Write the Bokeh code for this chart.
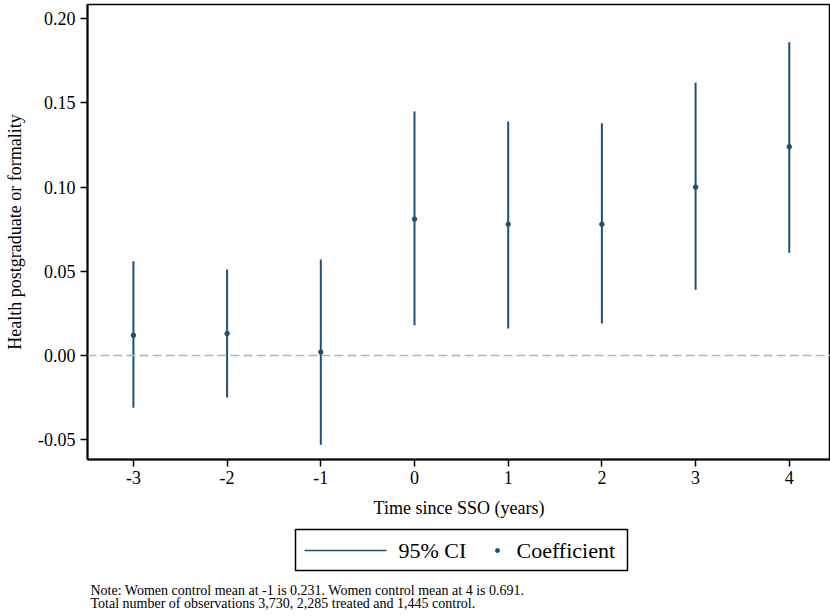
from bokeh.plotting import figure
from bokeh.models import Range1d, FixedTicker, NumeralTickFormatter, Span, ColumnDataSource
from bokeh.layouts import column
from bokeh.embed import file_html
from bokeh.resources import INLINE
from bokeh.core.properties import value

# ---- data ----
periods = [-3, -2, -1, 0, 1, 2, 3, 4]
coef = [0.012, 0.013, 0.002, 0.081, 0.078, 0.078, 0.100, 0.124]
ci_low = [-0.031, -0.025, -0.053, 0.018, 0.016, 0.019, 0.039, 0.061]
ci_high = [0.056, 0.051, 0.057, 0.145, 0.139, 0.138, 0.162, 0.186]
y_ticks = [-0.05, 0.0, 0.05, 0.10, 0.15, 0.20]
x_ticks = periods
x_tick_labels = ["-3", "-2", "-1", "0", "1", "2", "3", "4"]
legend_labels = ["95% CI", "Coefficient"]
note_lines = [
    "Note: Women control mean at -1 is 0.231. Women control mean at 4 is 0.691.",
    "Total number of observations 3,730, 2,285 treated and 1,445 control.",
]

FONT = "Liberation Serif"
NAVY = "#1f4e79"
W = 830
H1 = 520
H2 = 96
FL = 87  # frame left in page pixels

p = figure(width=W, height=H1, output_backend="svg", toolbar_location=None,
           x_range=Range1d(-3.49, 4.44), y_range=Range1d(-0.0618, 0.2085),
           min_border_left=FL, min_border_right=0, min_border_top=4, min_border_bottom=57)
p.background_fill_color = "white"
p.border_fill_color = "white"
p.outline_line_color = "black"
p.outline_line_width = 1.5
p.xgrid.visible = False
p.ygrid.visible = False

src = ColumnDataSource(dict(x=periods, y=coef, lo=ci_low, hi=ci_high))
p.add_layout(Span(location=0, dimension="width", line_color="#a5b9cc",
                  line_dash="9 4", line_width=1.5))
p.segment(x0="x", y0="lo", x1="x", y1="hi", source=src, line_color=NAVY, line_width=2)
p.scatter(x="x", y="y", source=src, size=4.5, color=NAVY)

for ax in (p.xaxis[0], p.yaxis[0]):
    ax.axis_line_color = "black"
    ax.axis_line_width = 2
    ax.major_tick_line_color = "black"
    ax.major_tick_line_width = 1.5
    ax.major_tick_out = 7
    ax.major_tick_in = 0
    ax.minor_tick_line_color = None
    ax.major_label_text_font = FONT
    ax.major_label_text_font_size = "18px"
    ax.major_label_text_color = "black"
    ax.axis_label_text_font = FONT
    ax.axis_label_text_font_size = "18px"
    ax.axis_label_text_font_style = "normal"
    ax.axis_label_text_color = "black"

p.xaxis.ticker = FixedTicker(ticks=x_ticks)
p.xaxis.major_label_overrides = {t: s for t, s in zip(x_ticks, x_tick_labels)}
p.xaxis.axis_label = "Time since SSO (years)"
p.xaxis.major_label_standoff = 4
p.xaxis.axis_label_standoff = 11

p.yaxis.ticker = FixedTicker(ticks=y_ticks)
p.yaxis.formatter = NumeralTickFormatter(format="0.00")
p.yaxis.axis_label = "Health postgraduate or formality"
p.yaxis.major_label_standoff = 5
p.yaxis.axis_label_standoff = 10

# ---- legend + note panel (x in page pixels, frame aligned with main plot) ----
q = figure(width=W, height=H2, output_backend="svg", toolbar_location=None,
           x_range=Range1d(FL, W), y_range=Range1d(H2, 0),
           min_border_left=FL, min_border_right=0, min_border_top=0, min_border_bottom=0,
           x_axis_location=None, y_axis_location=None)
q.grid.visible = False
q.outline_line_color = None
q.background_fill_color = "white"
q.border_fill_color = "white"

q.quad(left=[295], right=[627], top=[9], bottom=[50], fill_color="white",
       line_color="black", line_width=1.5)
q.segment(x0=[304], y0=[30], x1=[386], y1=[30], line_color=NAVY, line_width=1.5)
q.text(x=[398], y=[30], text=[legend_labels[0]], text_font=value(FONT),
       text_font_size="22px", text_baseline="middle", text_color="black")
q.scatter(x=[497], y=[30], size=4, color=NAVY)
q.text(x=[516], y=[30], text=[legend_labels[1]], text_font=value(FONT),
       text_font_size="22px", text_baseline="middle", text_color="black")
q.text(x=[90, 90], y=[70, 83], text=note_lines, text_font=value(FONT),
       text_font_size="14px", text_baseline="middle", text_color="black")

layout = column(p, q, spacing=0)
open("out.html", "w").write(file_html(layout, INLINE))
